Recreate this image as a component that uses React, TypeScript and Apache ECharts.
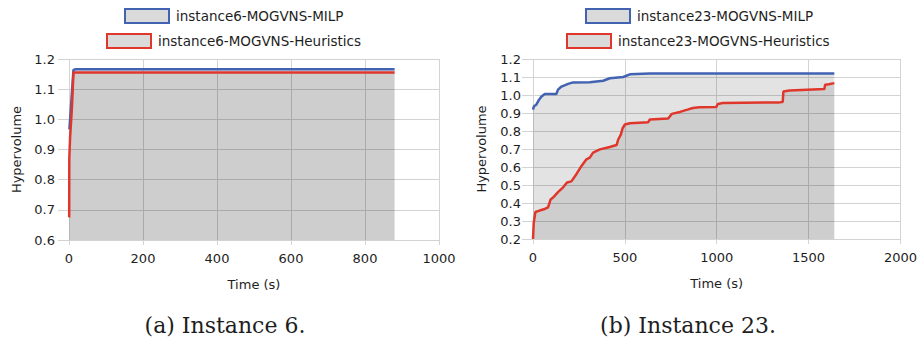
import React, { useEffect, useRef } from "react";
import * as echarts from "echarts";

// ---------- data ----------
const inst6MilpName = "instance6-MOGVNS-MILP";
const inst6HeurName = "instance6-MOGVNS-Heuristics";
const inst23MilpName = "instance23-MOGVNS-MILP";
const inst23HeurName = "instance23-MOGVNS-Heuristics";

const inst6MilpTime = [1, 3, 12, 18, 880];
const inst6MilpHv = [0.967, 1.0, 1.164, 1.166, 1.166];
const inst6HeurTime = [0.5, 0.8, 3, 8, 12, 880];
const inst6HeurHv = [0.675, 0.87, 0.94, 1.04, 1.155, 1.155];

const inst23MilpTime = [0, 5, 18, 33, 45, 64, 127, 136, 155, 191, 218, 309, 382, 418, 491, 527, 636, 1640];
const inst23MilpHv = [0.919, 0.937, 0.946, 0.974, 0.99, 1.005, 1.005, 1.03, 1.047, 1.062, 1.07, 1.071, 1.079, 1.093, 1.1, 1.115, 1.119, 1.12];
const inst23HeurTime = [0, 4, 13, 36, 64, 82, 96, 109, 136, 164, 185, 209, 236, 264, 291, 309, 327, 364, 418, 455, 464, 478, 487, 500, 527, 627, 636, 736, 755, 800, 845, 870, 906, 997, 1006, 1033, 1341, 1359, 1363, 1396, 1586, 1590, 1610, 1640];
const inst23HeurHv = [0.2, 0.29, 0.35, 0.358, 0.367, 0.376, 0.42, 0.43, 0.46, 0.487, 0.514, 0.52, 0.56, 0.606, 0.643, 0.652, 0.68, 0.698, 0.711, 0.722, 0.753, 0.78, 0.814, 0.836, 0.843, 0.849, 0.864, 0.869, 0.895, 0.906, 0.92, 0.928, 0.932, 0.933, 0.95, 0.955, 0.959, 0.961, 1.02, 1.025, 1.033, 1.057, 1.06, 1.066];

const captions = ["(a) Instance 6.", "(b) Instance 23."];
const xAxisName = "Time (s)";
const yAxisName = "Hypervolume";

const BLUE = "#4262b2";
const RED = "#e0372c";
const FONT = "DejaVu Sans";

const pairs = (xs: number[], ys: number[]) => xs.map((x, i) => [x, ys[i]]);

export default function App() {
  const ref = useRef<HTMLDivElement>(null);
  useEffect(() => {
    if (!ref.current) return;
    const chart = echarts.init(ref.current, undefined, { renderer: "svg" });

    const gridLine = { show: true, lineStyle: { color: "#d3d3d3", width: 1 } };
    const axisLabel = { color: "#1e1e1e", fontSize: 13, fontFamily: FONT };
    const mkX = (gi: number, max: number, interval: number) => ({
      type: "value",
      gridIndex: gi,
      min: 0,
      max,
      interval,
      name: xAxisName,
      nameLocation: "middle",
      nameGap: 38,
      nameTextStyle: { color: "#1e1e1e", fontSize: 13, fontFamily: FONT },
      axisLine: { show: false },
      axisTick: { show: true, length: 5, lineStyle: { color: "#d3d3d3" } },
      axisLabel: { ...axisLabel, margin: 12, formatter: (v: number) => String(v) },
      splitLine: gridLine,
    });
    const mkY = (gi: number, min: number, gap: number, margin: number) => ({
      type: "value",
      gridIndex: gi,
      min,
      max: 1.2,
      interval: 0.1,
      name: yAxisName,
      nameLocation: "middle",
      nameGap: gap,
      nameTextStyle: { color: "#1e1e1e", fontSize: 13, fontFamily: FONT },
      axisLine: { show: false },
      axisTick: { show: true, length: 11, lineStyle: { color: "#d3d3d3" } },
      axisLabel: { ...axisLabel, margin, formatter: (v: number) => v.toFixed(1) },
      splitLine: gridLine,
    });
    const mkSeries = (name: string, gi: number, data: number[][], color: string, fillAlpha: number) => ({
      type: "line",
      name,
      xAxisIndex: gi,
      yAxisIndex: gi,
      data,
      showSymbol: false,
      symbol: "none",
      lineStyle: { color, width: 2.5 },
      itemStyle: { color },
      areaStyle: { color: `rgba(0,0,0,${fillAlpha})`, opacity: 1 },
    });
    const mkLegend = (name: string, color: string, left: number, top: number) => ({
      data: [
        {
          name,
          icon: "rect",
          itemStyle: { color: "#dadada", borderColor: color, borderWidth: 2 },
        },
      ],
      left,
      top,
      padding: 0,
      itemWidth: 44,
      itemHeight: 14,
      selectedMode: false,
      textStyle: { color: "#1e1e1e", fontSize: 13.5, fontFamily: FONT, padding: [0, 0, 0, 2] },
    });

    chart.setOption({
      animation: false,
      backgroundColor: "#ffffff",
      grid: [
        { left: 69, top: 59, width: 370, height: 181 },
        { left: 533, top: 59, width: 369, height: 180 },
      ],
      xAxis: [mkX(0, 1000, 200), mkX(1, 2000, 500)],
      yAxis: [mkY(0, 0.6, 46, 14), mkY(1, 0.2, 45, 12)],
      legend: [
        mkLegend(inst6MilpName, BLUE, 124, 8),
        mkLegend(inst6HeurName, RED, 106, 33),
        mkLegend(inst23MilpName, BLUE, 585, 8),
        mkLegend(inst23HeurName, RED, 566, 33),
      ],
      series: [
        mkSeries(inst6MilpName, 0, pairs(inst6MilpTime, inst6MilpHv), BLUE, 0.11),
        mkSeries(inst6HeurName, 0, pairs(inst6HeurTime, inst6HeurHv), RED, 0.09),
        mkSeries(inst23MilpName, 1, pairs(inst23MilpTime, inst23MilpHv), BLUE, 0.11),
        mkSeries(inst23HeurName, 1, pairs(inst23HeurTime, inst23HeurHv), RED, 0.09),
      ],
      graphic: [
        {
          type: "text",
          x: 225,
          y: 325,
          style: {
            text: captions[0],
            font: '22px "DejaVu Serif"',
            fill: "#1e1e1e",
            align: "center",
            verticalAlign: "middle",
            textAlign: "center",
            textVerticalAlign: "middle",
          },
        },
        {
          type: "text",
          x: 688,
          y: 325,
          style: {
            text: captions[1],
            font: '22px "DejaVu Serif"',
            fill: "#1e1e1e",
            align: "center",
            verticalAlign: "middle",
            textAlign: "center",
            textVerticalAlign: "middle",
          },
        },
      ],
    });
    return () => chart.dispose();
  }, []);
  return (
    <div
      ref={ref}
      style={{ position: "fixed", left: 0, top: 0, width: 920, height: 340, background: "#fff" }}
    />
  );
}
